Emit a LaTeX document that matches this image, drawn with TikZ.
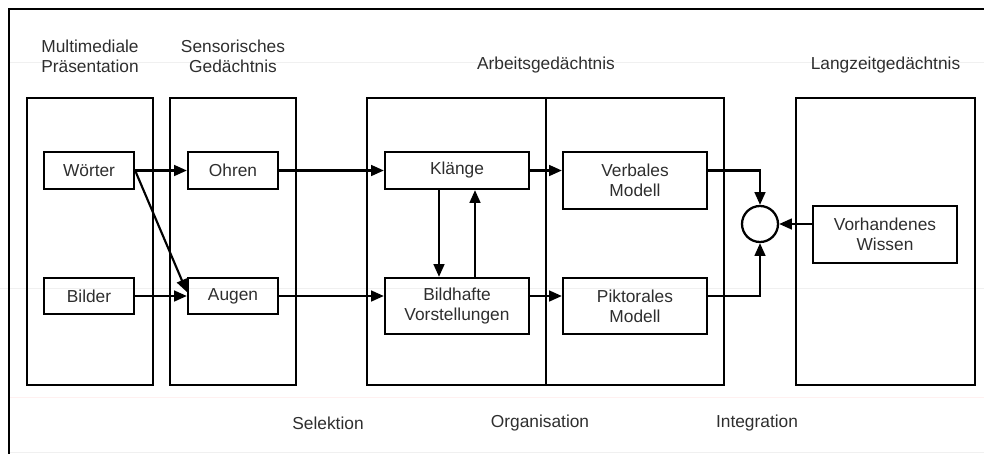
\documentclass[tikz,border=0pt]{standalone}
\usepackage{fontspec}
\setmainfont{Liberation Sans}
\usetikzlibrary{arrows.meta}
\begin{document}
\begin{tikzpicture}[x=0.75pt,y=-0.75pt,
  every node/.style={font=\fontsize{13}{15}\selectfont, text=black!82},
  frame/.style={draw=black, line width=1.7pt, inner sep=0pt},
  bx/.style={draw=black, line width=1.7pt, align=center, inner sep=0pt},
  lbl/.style={align=center, inner sep=0pt},
  arr/.style={line width=1.6pt, -{Triangle[length=9.5pt,width=8pt]}},
  faint/.style={draw=black!6, line width=0.6pt}]
\useasboundingbox (0,0) rectangle (984,454);
% faint scan lines
\draw[faint] (9,62) -- (984,62);
\draw[faint] (0,288) -- (984,288);
\draw[draw=red!6, line width=0.6pt] (9,397) -- (984,397);
\draw[faint] (9,452) -- (984,452);
% outer frame (top and left)
\draw[line width=1.7pt] (984,9) -- (9,9) -- (9,454);
% containers
\node[frame, minimum width=94.5pt, minimum height=215.25pt] (mp) at (90,241.5) {};
\node[frame, minimum width=94.5pt, minimum height=215.25pt] (sg) at (233,241.5) {};
\node[frame, minimum width=134.25pt, minimum height=215.25pt] (ag1) at (456.5,241.5) {};
\node[frame, minimum width=133.5pt, minimum height=215.25pt] (ag2) at (635,241.5) {};
\node[frame, minimum width=134.25pt, minimum height=215.25pt] (lg) at (885.5,241.5) {};
% headers
\node[lbl] (hmp) at (90,56) {Multimediale\\Präsentation};
\node[lbl] (hsg) at (233,56) {Sensorisches\\Gedächtnis};
\node[lbl] (hag) at (546,65) {Arbeitsgedächtnis};
\node[lbl] (hlg) at (885.5,65) {Langzeitgedächtnis};
% bottom labels
\node[lbl] (sel) at (328,423) {Selektion};
\node[lbl] (org) at (540,423) {Organisation};
\node[lbl] (int) at (757,423) {Integration};
% inner boxes
\node[bx, minimum width=67.5pt, minimum height=27.75pt] (w) at (89,170.5) {Wörter};
\node[bx, minimum width=67.5pt, minimum height=27pt] (b) at (89,296) {Bilder};
\node[bx, minimum width=67.5pt, minimum height=27.75pt] (o) at (233,170.5) {Ohren};
\node[bx, minimum width=67.5pt, minimum height=27pt] (a) at (233,296) {Augen};
\node[bx, minimum width=108pt, minimum height=27.75pt] (k) at (457,170.5) {Klänge};
\node[bx, minimum width=108pt, minimum height=42pt] (bv) at (457,306) {Bildhafte\\Vorstellungen};
\node[bx, minimum width=108pt, minimum height=42.75pt] (vm) at (635,180.5) {Verbales\\Modell};
\node[bx, minimum width=108pt, minimum height=42pt] (pm) at (635,306) {Piktorales\\Modell};
\node[bx, minimum width=108pt, minimum height=42.75pt] (vw) at (885,234.5) {Vorhandenes\\Wissen};
\node[draw=black, line width=1.7pt, circle, minimum size=27pt, inner sep=0pt] (c) at (760,224) {};
% connectors
\draw[arr] (w.east) -- (o.west);
\draw[arr] (w.east) -- ([yshift=3pt]a.west);
\draw[arr] (b.east) -- (a.west);
\draw[arr] (o.east) -- (k.west);
\draw[arr] (a.east) -- (a.east -| bv.west);
\draw[arr] ([xshift=-13.5pt]k.south) -- ([xshift=-13.5pt]bv.north);
\draw[arr] ([xshift=13.5pt]bv.north) -- ([xshift=13.5pt]k.south);
\draw[arr] (k.east) -- (k.east -| vm.west);
\draw[arr] ([yshift=7.5pt]bv.east) -- ([yshift=7.5pt]pm.west);
\draw[arr] ([yshift=7.5pt]vm.east) -| (c.north);
\draw[arr] ([yshift=7.5pt]pm.east) -| (c.south);
\draw[arr] (c.east -| vw.west) -- (c.east);
\end{tikzpicture}
\end{document}
